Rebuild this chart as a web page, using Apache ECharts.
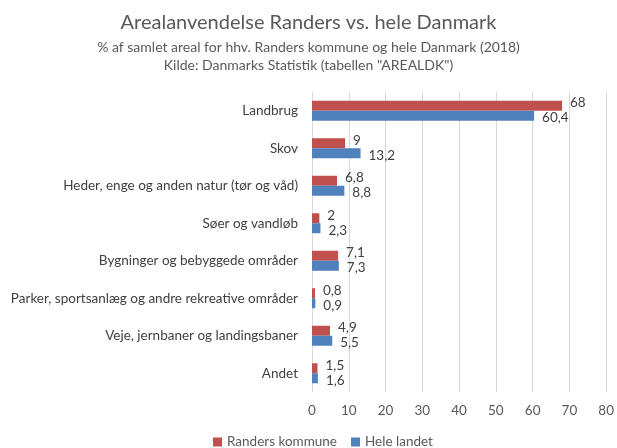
<!DOCTYPE html>
<html><head><meta charset="utf-8">
<script src="https://cdn.jsdelivr.net/npm/echarts@6/dist/echarts.min.js"></script>
<style>html,body{margin:0;padding:0;background:#fff}#c{width:617px;height:448px}</style>
</head><body><div id="c"></div>
<script>
var categories = ["Landbrug","Skov","Heder, enge og anden natur (tør og våd)","Søer og vandløb","Bygninger og bebyggede områder","Parker, sportsanlæg og andre rekreative områder","Veje, jernbaner og landingsbaner","Andet"];
var randers = [68, 9, 6.8, 2, 7.1, 0.8, 4.9, 1.5];
var danmark = [60.4, 13.2, 8.8, 2.3, 7.3, 0.9, 5.5, 1.6];
var seriesNames = ["Randers kommune", "Hele landet"];
var xTicks = {min: 0, max: 80, interval: 10};

var FONT = "Lato";
var chart = echarts.init(document.getElementById('c'), null, {renderer: 'canvas'});
function fmt(p){ return String(p.value).replace('.', ','); }
chart.setOption({
  animation: false,
  textStyle: {fontFamily: FONT},
  title: [
    {text: "Arealanvendelse Randers vs. hele Danmark", left: 'center', top: 8,
     textStyle: {fontFamily: FONT, fontSize: 20, fontWeight: 'normal', color: '#595959'}},
    {text: '% af samlet areal for hhv. Randers kommune og hele Danmark (2018)\nKilde: Danmarks Statistik (tabellen "AREALDK")',
     left: 'center', top: 33,
     textStyle: {fontFamily: FONT, fontSize: 14, fontWeight: 'normal', color: '#595959', lineHeight: 18, align: 'center'}}
  ],
  legend: {top: 430, left: 208, itemWidth: 9, itemHeight: 9, itemGap: 14, icon: 'rect',
    textStyle: {fontFamily: FONT, fontSize: 13.5, color: '#595959'}, data: seriesNames},
  grid: {left: 312, right: 9, top: 92, bottom: 56},
  xAxis: {type: 'value', min: xTicks.min, max: xTicks.max, interval: xTicks.interval,
    axisLine: {show: false}, axisTick: {show: false},
    splitLine: {lineStyle: {color: '#d9d9d9', width: 1}},
    axisLabel: {color: '#595959', fontSize: 13.5, fontFamily: FONT, margin: 12}},
  yAxis: {type: 'category', data: categories, inverse: true,
    axisLine: {lineStyle: {color: '#d9d9d9'}}, axisTick: {show: false},
    axisLabel: {color: '#404040', fontSize: 13.5, fontFamily: FONT, margin: 14}},
  series: [
    {name: seriesNames[0], type: 'bar', data: randers, barWidth: 10, barGap: '0%', barCategoryGap: '50%',
     itemStyle: {color: '#C0504D'},
     label: {show: true, position: 'right', distance: 8, offset: [0, -3], formatter: fmt, color: '#404040', fontSize: 13.5, fontFamily: FONT}},
    {name: seriesNames[1], type: 'bar', data: danmark, barWidth: 10, barGap: '0%',
     itemStyle: {color: '#4F81BD'},
     label: {show: true, position: 'right', distance: 8, offset: [0, 2], formatter: fmt, color: '#404040', fontSize: 13.5, fontFamily: FONT}}
  ]
});
</script></body></html>
